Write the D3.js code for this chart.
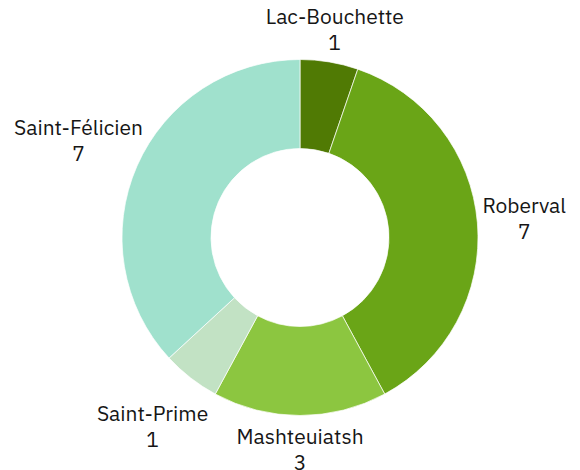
<!DOCTYPE html>
<html>
<head>
<meta charset="utf-8">
<script src="https://cdn.jsdelivr.net/npm/d3@7"></script>
<style>
  body { margin: 0; background: #fff; }
  text { font-family: "IBM Plex Sans", Roboto, sans-serif; fill: #161616; }
</style>
</head>
<body>
<svg id="chart"></svg>
<script>
// data
var towns = ["Lac-Bouchette", "Roberval", "Mashteuiatsh", "Saint-Prime", "Saint-Félicien"];
var counts = [1, 7, 3, 1, 7];
var colors = ["#507a04", "#6aa517", "#8cc640", "#c2e2c4", "#a0e1cd"];

var width = 580, height = 470;
var cx = 300, cy = 237.5, outer = 178, inner = 89;
var fontSize = 21, lineH = 26, capH = 15;
var labelGap = 185, edge = 14;

var svg = d3.select("#chart")
    .attr("width", width)
    .attr("height", height);

var g = svg.append("g")
    .attr("transform", "translate(" + cx + "," + cy + ")");

var color = d3.scaleOrdinal().domain(towns).range(colors);

var pie = d3.pie().sort(null).value(function(d) { return d; });
var arcs = pie(counts);

var arc = d3.arc().innerRadius(inner).outerRadius(outer);

g.selectAll("path.slice")
    .data(arcs)
    .enter().append("path")
    .attr("class", "slice")
    .attr("d", arc)
    .attr("fill", function(d, i) { return color(towns[i]); })
    .attr("stroke", "#fff")
    .attr("stroke-width", 0.7);

// labels: name + value, pushed outside the ring along the slice middle
var labels = g.selectAll("text.lbl")
    .data(arcs)
    .enter().append("text")
    .attr("class", "lbl")
    .style("font-size", fontSize + "px")
    .attr("text-anchor", "middle");

labels.append("tspan").attr("class", "name").text(function(d, i) { return towns[i]; });
labels.append("tspan").attr("class", "val").text(function(d) { return d.value; });

labels.each(function(d) {
    var t = d3.select(this);
    var w = 0;
    t.selectAll("tspan").each(function() { w = Math.max(w, this.getComputedTextLength()); });
    var hw = w / 2, hh = (capH + lineH) / 2;
    var a = (d.startAngle + d.endAngle) / 2;
    var s = Math.sin(a), c = Math.cos(a);
    // labels sit a little lower than a pure radial push
    var dist = labelGap - 6 * c + hw * Math.abs(s) + hh * Math.abs(c);
    var x = dist * s;
    // keep the label inside the picture
    if (x - hw < edge - cx) dist = (cx - edge - hw) / -s;
    if (x + hw > width - edge - cx) dist = (width - edge - cx - hw) / s;
    x = dist * s;
    var y = -dist * c;
    var base = y - hh + capH;
    t.select(".name").attr("x", x).attr("y", base);
    t.select(".val").attr("x", x).attr("y", base + lineH);
});
</script>
</body>
</html>
